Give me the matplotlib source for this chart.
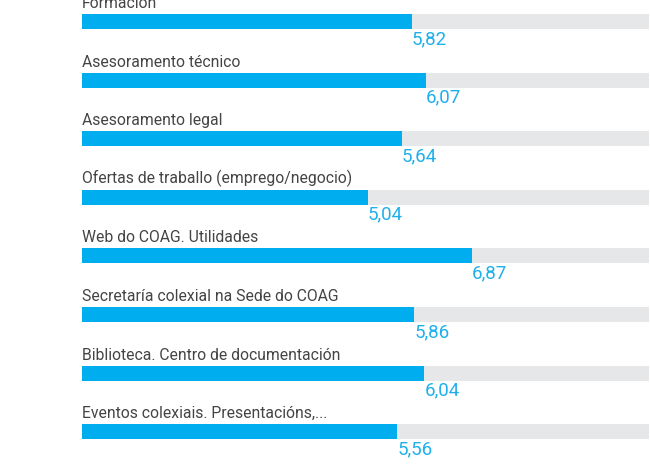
import matplotlib
matplotlib.use('Agg')
import matplotlib.pyplot as plt

labels = ['Formación', 'Asesoramento técnico', 'Asesoramento legal',
          'Ofertas de traballo (emprego/negocio)', 'Web do COAG. Utilidades',
          'Secretaría colexial na Sede do COAG', 'Biblioteca. Centro de documentación',
          'Eventos colexiais. Presentacións,...']
values = [5.82, 6.07, 5.64, 5.04, 6.87, 5.86, 6.04, 5.56]
max_value = 10

plt.rcParams['font.family'] = ['Roboto', 'DejaVu Sans']

fig = plt.figure(figsize=(6.5, 4.65), dpi=100)
ax = fig.add_axes([82 / 650, 0, (649 - 82) / 650, 1])
ax.set_xlim(0, max_value)
ax.set_ylim(465, 0)
ax.axis('off')

step = 58.6
first = 21.5
bar_h = 15
for i, (lab, v) in enumerate(zip(labels, values)):
    yc = first + i * step
    ax.barh(yc, max_value, height=bar_h, color='#e6e7e8', zorder=1)
    ax.barh(yc, v, height=bar_h, color='#00aeef', zorder=2)
    ax.text(0, yc - 10.5, lab, fontsize=11.3, color='#444444',
            ha='left', va='bottom')
    ax.text(v, yc + 8.5, f'{v:.2f}'.replace('.', ','), fontsize=13.5, color='#1fb0ec',
            ha='left', va='top')

fig.savefig('out.png', dpi=100)
